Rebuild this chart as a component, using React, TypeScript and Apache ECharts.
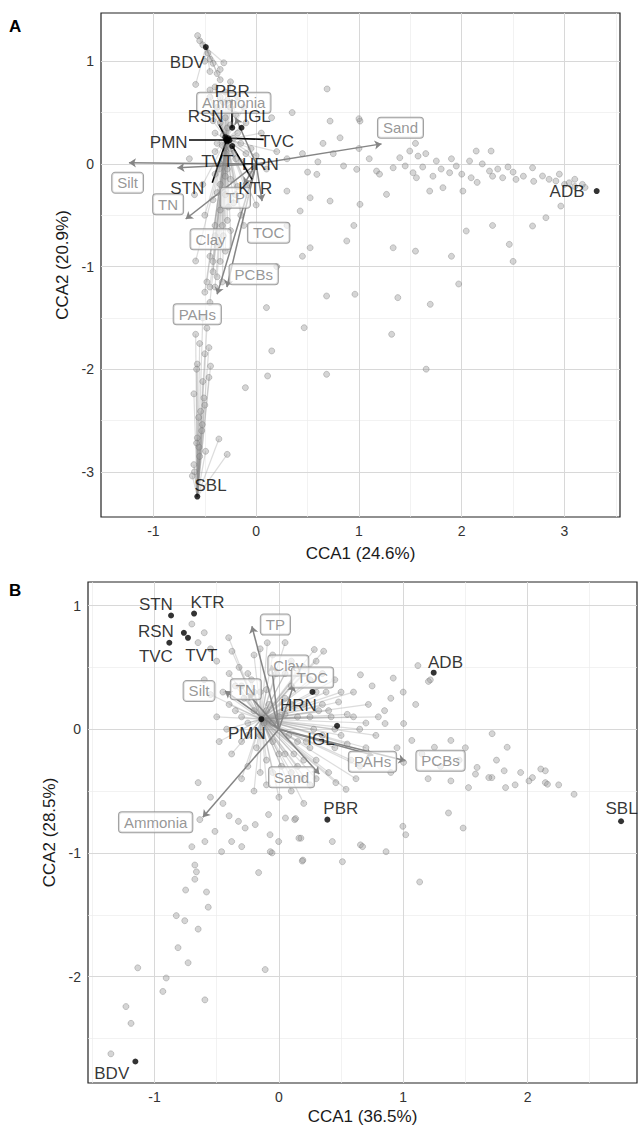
import React, { useEffect, useRef } from "react";
import * as echarts from "echarts";

const FONT = "'Liberation Sans', Arial, Helvetica, sans-serif";

// ---------- Panel A ----------
const xRangeA = [-1.51, 3.54];
const yRangeA = [-3.44, 1.47];
const xTicksA = [-1, 0, 1, 2, 3];
const yTicksA = [-3, -2, -1, 0, 1];
const xMinorA = [-0.5, 0.5, 1.5, 2.5, 3.5];
const yMinorA = [-2.5, -1.5, -0.5, 0.5];

const sitesA = ["BDV", "PBR", "RSN", "IGL", "PMN", "TVC", "TVT", "HRN", "STN", "KTR", "ADB", "SBL"];
const siteXA = [-0.49, -0.233, -0.3, -0.143, -0.29, -0.27, -0.28, -0.26, -0.29, -0.233, 3.313, -0.573];
const siteYA = [1.138, 0.352, 0.26, 0.352, 0.24, 0.25, 0.22, 0.23, 0.23, 0.174, -0.265, -3.241];
const labelXA = [-0.67, -0.233, -0.492, 0.009, -0.851, 0.203, -0.379, 0.041, -0.67, -0.008, 3.025, -0.444];
const labelYA = [0.985, 0.709, 0.466, 0.466, 0.206, 0.222, 0.028, -0.002, -0.235, -0.235, -0.265, -3.137];
const segXA = [null, -0.233, -0.363, null, -0.654, 0.073, null, null, -0.427, -0.04, null, null];
const segYA = [null, 0.628, 0.385, null, 0.239, 0.239, null, null, -0.184, -0.151, null, null];

const envNames = ["Silt", "Sand", "TN", "Clay", "TP", "TOC", "PCBs", "PAHs", "Ammonia"];
const envTipXA = [-1.238, 1.22, -0.766, -0.686, -0.12, 0.057, -0.285, -0.38, -0.2];
const envTipYA = [0.01, 0.195, -0.038, -0.537, -0.2, -0.362, -1.2, -1.27, 0.45];
const envLabXA = [-1.251, 1.404, -0.857, -0.444, -0.202, 0.121, -0.024, -0.573, -0.218];
const envLabYA = [-0.184, 0.352, -0.394, -0.735, -0.33, -0.67, -1.076, -1.465, 0.595];

const aBDV = [[-0.57, 1.25], [-0.55, 1.2], [-0.52, 1.16], [-0.47, 1.08], [-0.5, 1.0], [-0.42, 0.98], [-0.315, 0.985], [-0.45, 0.9], [-0.38, 0.88], [-0.589, 0.774], [-0.35, 0.82], [-0.45, 1.02], [-0.35, 0.92]];
const aCore = [[-0.45, 0.72], [-0.4, 0.75], [-0.3, 0.7], [-0.45, 0.65], [-0.32, 0.6], [-0.38, 0.55], [-0.25, 0.55], [-0.42, 0.5], [-0.3, 0.45], [-0.2, 0.48], [-0.35, 0.4], [-0.28, 0.35], [-0.4, 0.3], [-0.18, 0.3], [-0.32, 0.28], [-0.22, 0.25], [-0.38, 0.2], [-0.25, 0.15], [-0.15, 0.2], [-0.3, 0.1], [-0.4, 0.12], [-0.2, 0.05], [-0.35, 0.0], [-0.28, -0.05], [-0.15, 0.02], [-0.4, -0.1], [-0.25, -0.15], [-0.35, -0.2], [-0.18, -0.22], [-0.3, -0.3], [-0.42, -0.35], [-0.22, -0.38], [-0.35, -0.45], [-0.28, -0.55], [-0.4, -0.6], [-0.32, -0.7], [-0.38, -0.8], [-0.45, -0.9], [-0.35, -0.95], [-0.589, -0.946], [-0.42, -1.05], [-0.48, -1.15], [-0.4, -1.2], [-0.5, -1.25], [-0.45, -1.35], [-0.1, 0.1], [-0.05, -0.1], [0.0, 0.08], [0.05, 0.3], [-0.1, 0.4], [0.1, -0.05], [0.2, 0.12], [-0.08, -0.3], [0.0, -0.4], [-0.12, -0.6], [-0.35, 0.65], [-0.28, 0.62], [-0.42, 0.42], [-0.25, 0.38], [-0.33, 0.18], [-0.22, 0.1], [-0.36, -0.05], [-0.3, -0.12], [-0.2, -0.3], [-0.38, -0.28], [-0.27, -0.42], [-0.33, -0.6], [-0.25, -0.65], [-0.4, -0.7], [-0.3, -0.85], [-0.42, -0.95], [-0.38, -1.1], [-0.33, -1.15], [-0.45, -1.2], [-0.5, -0.5], [-0.52, -0.2], [-0.15, -0.5], [-0.1, -0.2], [-0.05, 0.15], [-0.12, 0.55], [-0.18, 0.65], [-0.25, 0.8]];
const aADB = [[0.3, 0.05], [0.45, 0.1], [0.6, 0.02], [0.75, 0.1], [0.85, -0.02], [0.5, -0.08], [0.65, 0.2], [0.59, -0.102], [0.978, -0.053], [1.1, 0.05], [1.171, -0.07], [1.2, -0.1], [1.333, -0.038], [1.397, 0.06], [1.45, -0.02], [1.494, 0.125], [1.575, 0.076], [1.526, -0.086], [1.559, -0.135], [1.55, 0.2], [1.65, 0.1], [1.753, 0.028], [1.8, -0.05], [1.882, -0.086], [1.9, 0.05], [1.947, -0.021], [2.0, -0.1], [2.076, 0.028], [2.141, 0.125], [2.092, -0.135], [2.15, -0.18], [2.2, 0.0], [2.27, -0.07], [2.286, 0.125], [2.35, -0.05], [2.398, -0.135], [2.5, -0.08], [2.528, -0.151], [2.6, -0.12], [2.689, -0.038], [2.786, -0.118], [2.85, -0.15], [2.916, -0.167], [3.0, -0.2], [3.045, -0.184], [3.1, -0.22], [3.174, -0.2], [3.2, -0.23], [2.964, -0.411], [2.819, -0.524], [1.817, -0.232], [2.011, -0.265], [1.688, -0.265], [1.0, 0.15], [1.268, -0.297], [1.62, -0.03], [1.72, -0.12], [2.3, -0.12], [2.45, -0.03], [2.7, -0.17], [2.95, -0.1], [3.1, -0.15]];
const aSBL = [[-0.52, -1.5], [-0.48, -1.6], [-0.589, -1.66], [-0.55, -1.75], [-0.46, -1.79], [-0.5, -1.85], [-0.573, -1.95], [-0.444, -1.97], [-0.58, -2.0], [-0.46, -2.08], [-0.52, -2.12], [-0.606, -2.24], [-0.509, -2.28], [-0.5, -2.35], [-0.541, -2.41], [-0.56, -2.47], [-0.524, -2.54], [-0.53, -2.6], [-0.573, -2.67], [-0.363, -2.68], [-0.58, -2.72], [-0.557, -2.76], [-0.492, -2.8], [-0.282, -2.83], [-0.55, -2.85], [-0.606, -2.93], [-0.6, -3.0], [-0.621, -3.04]];
const aOther = [[0.719, 0.417], [1.01, 0.417], [0.816, 0.254], [0.525, -0.33], [0.719, -0.362], [1.01, -0.394], [0.525, -0.817], [0.881, -0.751], [1.333, -0.817], [2.044, -0.654], [2.463, -0.784], [2.689, -0.605], [0.428, -0.459], [0.299, -0.265], [0.685, -1.287], [0.961, -1.27], [1.378, -1.303], [1.694, -1.368], [0.467, -1.596], [1.318, -1.66], [0.151, -1.822], [0.685, -2.05], [0.111, -2.066], [1.654, -2.0], [-0.105, -2.18], [1.97, -1.17], [0.3, -0.6], [0.45, -0.9], [0.2, -1.0], [0.95, -0.6], [1.55, -0.85], [1.9, -0.9], [2.3, -0.6], [2.5, -0.95], [0.1, -1.4], [0.15, 0.45], [0.35, 0.5], [0.69, 0.73], [1.0, 0.44], [-0.6, -0.3], [-0.65, 0.05]];

// ---------- Panel B ----------
const xRangeB = [-1.535, 2.88];
const yRangeB = [-2.86, 1.19];
const xTicksB = [-1, 0, 1, 2];
const yTicksB = [-2, -1, 0, 1];
const xMinorB = [-1.5, -0.5, 0.5, 1.5, 2.5];
const yMinorB = [-2.5, -1.5, -0.5, 0.5];

const sitesB = ["STN", "KTR", "RSN", "TVT", "TVC", "ADB", "HRN", "PMN", "IGL", "PBR", "SBL", "BDV"];
const siteXB = [-0.867, -0.682, -0.764, -0.731, -0.881, 1.245, 0.27, -0.141, 0.468, 0.39, 2.752, -1.154];
const siteYB = [0.919, 0.935, 0.779, 0.739, 0.699, 0.457, 0.301, 0.081, 0.027, -0.731, -0.744, -2.686];
const labelXB = [-0.989, -0.574, -0.989, -0.623, -0.989, 1.34, 0.157, -0.258, 0.338, 0.498, 2.756, -1.344];
const labelYB = [1.007, 1.021, 0.792, 0.599, 0.591, 0.542, 0.188, -0.032, -0.081, -0.645, -0.645, -2.78];

const envTipXB = [-0.434, 0.325, -0.25, -0.06, -0.217, 0.12, 1.018, 0.76, -0.612];
const envTipYB = [0.309, -0.363, 0.29, 0.52, 0.832, 0.36, -0.255, -0.21, -0.712];
const envLabXB = [-0.642, 0.102, -0.266, 0.076, -0.028, 0.27, 1.3, 0.753, -0.991];
const envLabYB = [0.309, -0.389, 0.322, 0.516, 0.846, 0.417, -0.255, -0.264, -0.752];

const bCore = [[-0.45, 0.3], [-0.4, 0.2], [-0.35, 0.35], [-0.3, 0.1], [-0.28, 0.25], [-0.25, -0.05], [-0.22, 0.4], [-0.2, 0.15], [-0.18, -0.15], [-0.15, 0.3], [-0.12, 0.05], [-0.1, -0.25], [-0.08, 0.2], [-0.05, -0.1], [-0.02, 0.45], [0, 0.1], [0.02, -0.3], [0.05, 0.25], [0.08, -0.05], [0.1, 0.35], [0.12, -0.2], [0.15, 0.1], [0.18, -0.4], [0.2, 0.2], [0.22, -0.1], [0.25, 0.4], [0.28, 0.0], [0.3, -0.25], [0.32, 0.15], [0.35, -0.05], [0.38, 0.3], [0.4, -0.35], [0.42, 0.1], [0.45, -0.15], [0.48, 0.22], [0.5, -0.05], [0.55, 0.12], [0.58, -0.25], [0.6, 0.3], [0.65, 0.0], [0.7, -0.15], [0.72, 0.2], [0.78, -0.05], [0.8, 0.1], [-0.38, -0.2], [-0.3, -0.4], [-0.2, -0.5], [-0.1, -0.45], [0.0, -0.55], [0.1, -0.5], [0.2, -0.6], [-0.42, 0.0], [-0.5, 0.1], [-0.55, 0.28], [-0.48, -0.1], [-0.32, 0.5], [-0.2, 0.6], [-0.05, 0.6], [0.1, 0.55], [0.2, 0.5], [0.3, 0.55], [0.05, 0.7], [-0.15, 0.65], [-0.404, 0.74], [0.36, 0.63], [-0.377, 0.63], [0.285, 0.644], [-0.093, 0.699], [-0.25, 0.45], [-0.1, 0.32], [0.05, -0.2], [0.15, -0.3], [0.25, -0.45], [-0.05, -0.35], [-0.25, -0.3], [0.35, 0.45], [0.45, 0.4], [0.62, -0.4], [0.458, -0.432], [0.54, -0.486], [-0.35, 0.15], [-0.25, 0.05], [-0.15, -0.05], [-0.05, 0.05], [0.05, 0.12], [0.15, -0.1], [0.25, 0.1], [0.35, 0.2], [0.45, 0.0], [0.55, -0.12], [0.1, 0.2], [0.0, -0.2], [-0.1, 0.15], [-0.3, -0.1], [-0.2, 0.3], [0.2, -0.25], [0.3, 0.3], [0.4, 0.15], [0.6, 0.1], [0.7, 0.05], [-0.4, 0.45], [-0.3, 0.35], [0.1, -0.35], [0.3, -0.4], [-0.15, -0.35], [0.05, 0.45], [0.15, 0.45], [0.25, -0.15], [0.5, 0.3], [0.65, -0.3]];
const bRight = [[0.656, 0.44], [0.92, 0.413], [1.118, 0.514], [1.218, 0.399], [1.203, 0.386], [0.854, 0.046], [1.003, 0.046], [1.069, -0.091], [1.383, -0.091], [1.251, -0.146], [1.003, -0.268], [1.713, -0.391], [2.011, -0.418], [2.143, -0.432], [2.374, -0.526], [2.143, -0.336], [1.581, -0.363], [1.383, -0.418], [1.812, -0.336], [1.688, -0.391], [2.039, -0.391], [2.16, -0.445], [2.106, -0.322], [1.944, -0.35], [1.836, -0.146], [1.715, -0.036], [1.594, -0.309], [1.823, -0.472], [1.525, -0.472], [1.364, -0.677], [0.9, 0.25], [1.0, 0.3], [0.75, 0.35], [0.85, 0.15], [0.95, -0.15], [1.15, -0.2], [1.3, -0.3], [1.45, -0.25], [1.1, 0.2], [0.9, -0.35], [1.2, -0.4], [1.5, -0.15], [1.75, -0.25], [1.9, -0.45], [2.25, -0.45]];
const bTail = [[-0.649, -0.432], [-0.636, -0.731], [-0.514, -0.826], [-0.595, -0.908], [-0.461, -0.99], [-0.38, -0.908], [-0.325, -0.745], [-0.271, -0.799], [-0.19, -0.771], [-0.299, -0.949], [-0.676, -1.098], [-0.663, -1.153], [-0.676, -1.213], [-0.582, -1.316], [-0.568, -1.439], [-0.825, -1.507], [-0.757, -1.548], [-0.649, -1.616], [-0.811, -1.766], [-0.73, -1.888], [-1.135, -1.929], [-0.906, -2.011], [-0.933, -2.12], [-0.595, -2.188], [-1.23, -2.242], [-1.189, -2.378], [-1.351, -2.624], [-0.45, -0.6], [-0.55, -0.55], [-0.4, -0.7], [-0.7, -0.95], [-0.75, -1.3]];
const bOther = [[0.127, -0.731], [-0.071, -0.853], [0.193, -1.058], [-0.055, -1.0], [0.177, -0.881], [0.656, -0.935], [1.02, -0.853], [1.482, -0.799], [0.135, -0.722], [0.161, -0.881], [0.188, -1.066], [-0.069, -0.99], [-0.163, -1.159], [-0.002, -0.908], [-0.11, -1.943], [1.132, -1.235], [0.997, -0.785], [0.673, -0.949], [0.862, -0.99], [0.511, -1.071], [0.43, -0.908], [0.053, -0.718], [-0.083, -0.69], [-0.7, 0.85], [-0.6, 0.78], [-0.55, 0.65], [-0.65, 0.7], [-0.5, 0.55], [-0.6, 0.4]];

// ---------- helpers ----------
function gridLineData(xs: number[], ys: number[], xr: number[], yr: number[]) {
  const d: any[] = [];
  xs.forEach((v) => d.push({ coords: [[v, yr[0]], [v, yr[1]]] }));
  ys.forEach((v) => d.push({ coords: [[xr[0], v], [xr[1], v]] }));
  return d;
}

function spider(points: number[][], cx: number, cy: number) {
  return points.map((p) => ({ coords: [p, [cx, cy]] }));
}

function axisCfg(gridIndex: number, range: number[], ticks: number[], name: string, nameGap: number) {
  return {
    type: "value",
    gridIndex,
    min: range[0],
    max: range[1],
    name,
    nameLocation: "middle",
    nameGap,
    nameTextStyle: { fontSize: 17, color: "#1a1a1a", fontFamily: FONT },
    axisLine: { show: false },
    axisTick: { show: true, length: 4, customValues: ticks, lineStyle: { color: "#333", width: 1 } },
    axisLabel: { show: true, customValues: ticks, fontSize: 14, color: "#333", fontFamily: FONT, margin: 7 },
    splitLine: { show: false },
  };
}

function panelSeries(
  idx: number,
  p: {
    xr: number[]; yr: number[]; xT: number[]; yT: number[]; xM: number[]; yM: number[];
    points: number[][]; spiders: any[];
    envTipX: number[]; envTipY: number[]; envLabX: number[]; envLabY: number[];
    sites: string[]; siteX: number[]; siteY: number[]; labX: number[]; labY: number[];
    segX?: (number | null)[]; segY?: (number | null)[];
  }
) {
  const ax = { xAxisIndex: idx, yAxisIndex: idx };
  const series: any[] = [];
  series.push({
    type: "lines", coordinateSystem: "cartesian2d", ...ax, silent: true,
    data: gridLineData(p.xM, p.yM, p.xr, p.yr),
    lineStyle: { color: "#ececec", width: 0.7, opacity: 1 },
  });
  series.push({
    type: "lines", coordinateSystem: "cartesian2d", ...ax, silent: true,
    data: gridLineData(p.xT, p.yT, p.xr, p.yr),
    lineStyle: { color: "#d8d8d8", width: 1, opacity: 1 },
  });
  series.push({
    type: "lines", coordinateSystem: "cartesian2d", ...ax, silent: true,
    data: p.spiders,
    lineStyle: { color: "#8a8a8a", width: 1.2, opacity: 0.3 },
  });
  series.push({
    type: "scatter", ...ax, silent: true,
    data: p.points,
    symbolSize: 6,
    itemStyle: { color: "rgba(150,150,150,0.5)", borderColor: "rgba(105,105,105,0.5)", borderWidth: 0.8 },
  });
  series.push({
    type: "lines", coordinateSystem: "cartesian2d", ...ax, silent: true,
    symbol: ["none", "arrow"], symbolSize: 7,
    data: envNames.map((_, i) => ({ coords: [[0, 0], [p.envTipX[i], p.envTipY[i]]] })),
    lineStyle: { color: "#858585", width: 1.5, opacity: 1 },
  });
  series.push({
    type: "scatter", ...ax, silent: true,
    symbolSize: 1,
    itemStyle: { color: "rgba(0,0,0,0)" },
    data: envNames.map((n, i) => ({ name: n, value: [p.envLabX[i], p.envLabY[i]] })),
    label: {
      show: true, position: "inside", formatter: "{b}",
      fontFamily: FONT, fontSize: 15, color: "#7c7c7c",
      backgroundColor: "rgba(255,255,255,0.78)", borderColor: "#8a8a8a", borderWidth: 1,
      borderRadius: 3, padding: [3, 5, 2, 5],
    },
  });
  if (p.segX && p.segY) {
    const segs: any[] = [];
    p.sites.forEach((_, i) => {
      const sx = p.segX![i];
      const sy = p.segY![i];
      if (sx !== null && sy !== null) segs.push({ coords: [[sx, sy], [p.siteX[i], p.siteY[i]]] });
    });
    series.push({
      type: "lines", coordinateSystem: "cartesian2d", ...ax, silent: true,
      data: segs,
      lineStyle: { color: "#000", width: 1.6, opacity: 1 },
    });
  }
  series.push({
    type: "scatter", ...ax, silent: true,
    symbolSize: 6,
    itemStyle: { color: "#000" },
    data: p.sites.map((_, i) => [p.siteX[i], p.siteY[i]]),
  });
  series.push({
    type: "scatter", ...ax, silent: true,
    symbolSize: 1,
    itemStyle: { color: "rgba(0,0,0,0)" },
    data: p.sites.map((n, i) => ({ name: n, value: [p.labX[i], p.labY[i]] })),
    label: { show: true, position: "inside", formatter: "{b}", fontFamily: FONT, fontSize: 17, color: "#000" },
  });
  return series;
}

export default function App() {
  const ref = useRef<HTMLDivElement>(null);
  useEffect(() => {
    if (!ref.current) return;
    const chart = echarts.init(ref.current, null, { renderer: "svg" });
    const core = 4; // PMN index in panel A
    const seriesA = panelSeries(0, {
      xr: xRangeA, yr: yRangeA, xT: xTicksA, yT: yTicksA, xM: xMinorA, yM: yMinorA,
      points: [...aBDV, ...aCore, ...aADB, ...aSBL, ...aOther],
      spiders: [
        ...spider(aBDV, siteXA[0], siteYA[0]),
        ...spider(aCore, siteXA[core], siteYA[core]),
        ...spider(aSBL, siteXA[11], siteYA[11]),
      ],
      envTipX: envTipXA, envTipY: envTipYA, envLabX: envLabXA, envLabY: envLabYA,
      sites: sitesA, siteX: siteXA, siteY: siteYA, labX: labelXA, labY: labelYA,
      segX: segXA, segY: segYA,
    });
    const seriesB = panelSeries(1, {
      xr: xRangeB, yr: yRangeB, xT: xTicksB, yT: yTicksB, xM: xMinorB, yM: yMinorB,
      points: [...bCore, ...bRight, ...bTail, ...bOther],
      spiders: [...spider(bCore, siteXB[7], siteYB[7])],
      envTipX: envTipXB, envTipY: envTipYB, envLabX: envLabXB, envLabY: envLabYB,
      sites: sitesB, siteX: siteXB, siteY: siteYB, labX: labelXB, labY: labelYB,
    });
    chart.setOption({
      animation: false,
      backgroundColor: "#fff",
      grid: [
        { left: 101, top: 13, width: 519, height: 504, show: true, borderColor: "#222", borderWidth: 1.2, backgroundColor: "#fff" },
        { left: 88, top: 582, width: 549, height: 503, show: true, borderColor: "#222", borderWidth: 1.2, backgroundColor: "#fff" },
      ],
      xAxis: [
        axisCfg(0, xRangeA, xTicksA, "CCA1 (24.6%)", 28),
        axisCfg(1, xRangeB, xTicksB, "CCA1 (36.5%)", 25),
      ],
      yAxis: [
        axisCfg(0, yRangeA, yTicksA, "CCA2 (20.9%)", 26),
        axisCfg(1, yRangeB, yTicksB, "CCA2 (28.5%)", 27),
      ],
      graphic: [
        { type: "text", left: 9, top: 18, style: { text: "A", font: `bold 17px ${FONT}`, fill: "#000" } },
        { type: "text", left: 9, top: 582, style: { text: "B", font: `bold 17px ${FONT}`, fill: "#000" } },
      ],
      series: [...seriesA, ...seriesB],
    });
    return () => chart.dispose();
  }, []);
  return <div ref={ref} style={{ position: "absolute", left: 0, top: 0, width: 639, height: 1126 }} />;
}
